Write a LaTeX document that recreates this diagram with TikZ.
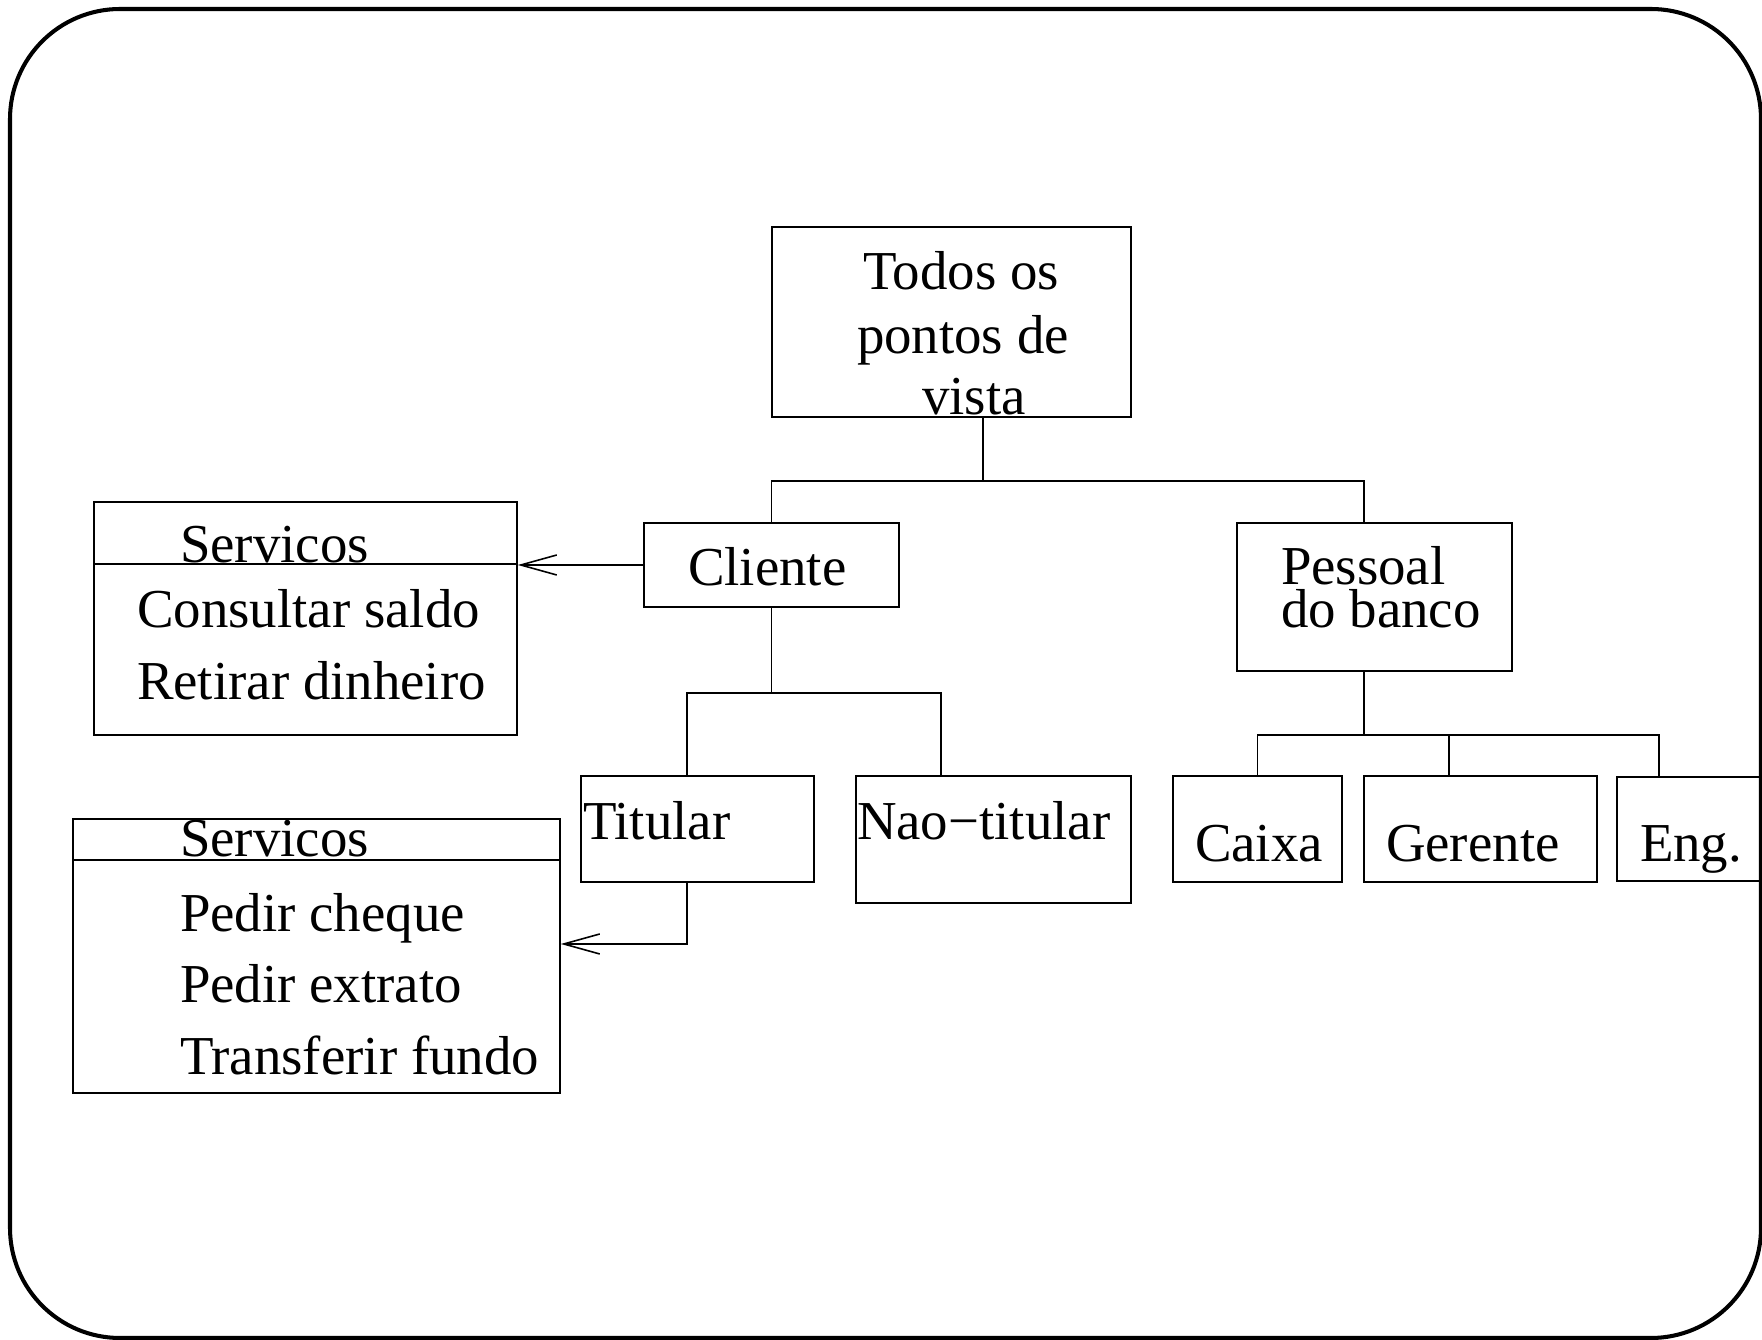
\documentclass[tikz,border=0pt]{standalone}
\usepackage{fontspec}
\setmainfont{Liberation Serif}
\usetikzlibrary{arrows.meta,fit}

\begin{document}
\begin{tikzpicture}[x=0.01cm,
            y=-0.01cm,
            >={Straight Barb[length=3.6mm,width=2mm]},
            line width=0.45pt,
            box/.style={draw, inner sep=0pt, fit={#1}},
            txt/.style={anchor=base west, inner sep=0pt,
                        font=\fontsize{15.6}{18}\selectfont},
            frame/.style={draw, line width=1.15pt, rounded corners=1.1cm}]

        \useasboundingbox (0,0) rectangle (1762,1340);
        \draw[frame] (10,9) rectangle (1761,1338);

        \node[box={(772,227) (1131,417)}]  (todos)   {};
        \node[box={(644,523) (899,607)}]   (cliente) {};
        \node[box={(1237,523) (1512,671)}] (pessoal) {};
        \node[box={(581,776) (814,882)}]   (titular) {};
        \node[box={(856,776) (1131,903)}]  (naotit)  {};
        \node[box={(1173,776) (1342,882)}] (caixa)   {};
        \node[box={(1364,776) (1597,882)}] (gerente) {};
        \node[box={(1617,777) (1760,881)}] (eng)     {};
        \node[box={(94,502) (517,735)}]    (serv1)   {};
        \node[box={(73,819) (560,1093)}]   (serv2)   {};

        \node[txt] (todos1) at ([shift={(91,63)}]todos.north west)   {Todos os};
        \node[txt] (todos2) at ([shift={(85,127)}]todos.north west)  {pontos de};
        \node[txt] (todos3) at ([shift={(150,188)}]todos.north west) {vista};
        \node[txt] (cli)    at ([shift={(44,63)}]cliente.north west) {Cliente};
        \node[txt] (pes1)   at ([shift={(44,62)}]pessoal.north west) {Pessoal};
        \node[txt] (pes2)   at ([shift={(44,105)}]pessoal.north west) {do banco};
        \node[txt] (tit)    at ([shift={(2,64)}]titular.north west)  {Titular};
        \node[txt] (nao)    at ([shift={(1,64)}]naotit.north west)   {Nao−titular};
        \node[txt] (cai)    at ([shift={(22,86)}]caixa.north west)   {Caixa};
        \node[txt] (ger)    at ([shift={(22,86)}]gerente.north west) {Gerente};
        \node[txt] (en)     at ([shift={(23,85)}]eng.north west)     {Eng.};

        \node[txt] (s1h) at ([shift={(86,61)}]serv1.north west)  {Servicos};
        \node[txt] (s1a) at ([shift={(43,126)}]serv1.north west) {Consultar saldo};
        \node[txt] (s1b) at ([shift={(43,198)}]serv1.north west) {Retirar dinheiro};
        \node[txt] (s2h) at ([shift={(107,38)}]serv2.north west)  {Servicos};
        \node[txt] (s2a) at ([shift={(107,113)}]serv2.north west) {Pedir cheque};
        \node[txt] (s2b) at ([shift={(107,184)}]serv2.north west) {Pedir extrato};
        \node[txt] (s2c) at ([shift={(107,256)}]serv2.north west) {Transferir fundo};

        \draw ([yshift=-.63cm]serv1.north west) -- ([yshift=-.63cm]serv1.north east);
        \draw ([yshift=-.42cm]serv2.north west) -- ([yshift=-.42cm]serv2.north east);

        \path ([xshift=.315cm]todos.south) ++(0,63) coordinate (j1);
        \path (cliente.south) ++(0,85) coordinate (j2);
        \path ([xshift=-.105cm]pessoal.south) ++(0,63) coordinate (j3);

        \draw ([xshift=.315cm]todos.south) -- (j1);
        \draw (cliente.north) |- (j1) -| ([xshift=-.105cm]pessoal.north);
        \draw (cliente.south) -- (j2);
        \draw ([xshift=-.105cm]titular.north) |- (j2) -| ([xshift=-.525cm]naotit.north);
        \draw ([xshift=-.105cm]pessoal.south) -- (j3);
        \draw (caixa.north) |- (j3) -| ([xshift=-.315cm]gerente.north);
        \draw (j3) -| ([xshift=-.295cm]eng.north);

        \draw[->] (cliente.west) -- (cliente.west -| serv1.east);
        \draw[->] ([xshift=-.105cm]titular.south) |- ([yshift=.12cm]serv2.east);

    \end{tikzpicture}
\end{document}
